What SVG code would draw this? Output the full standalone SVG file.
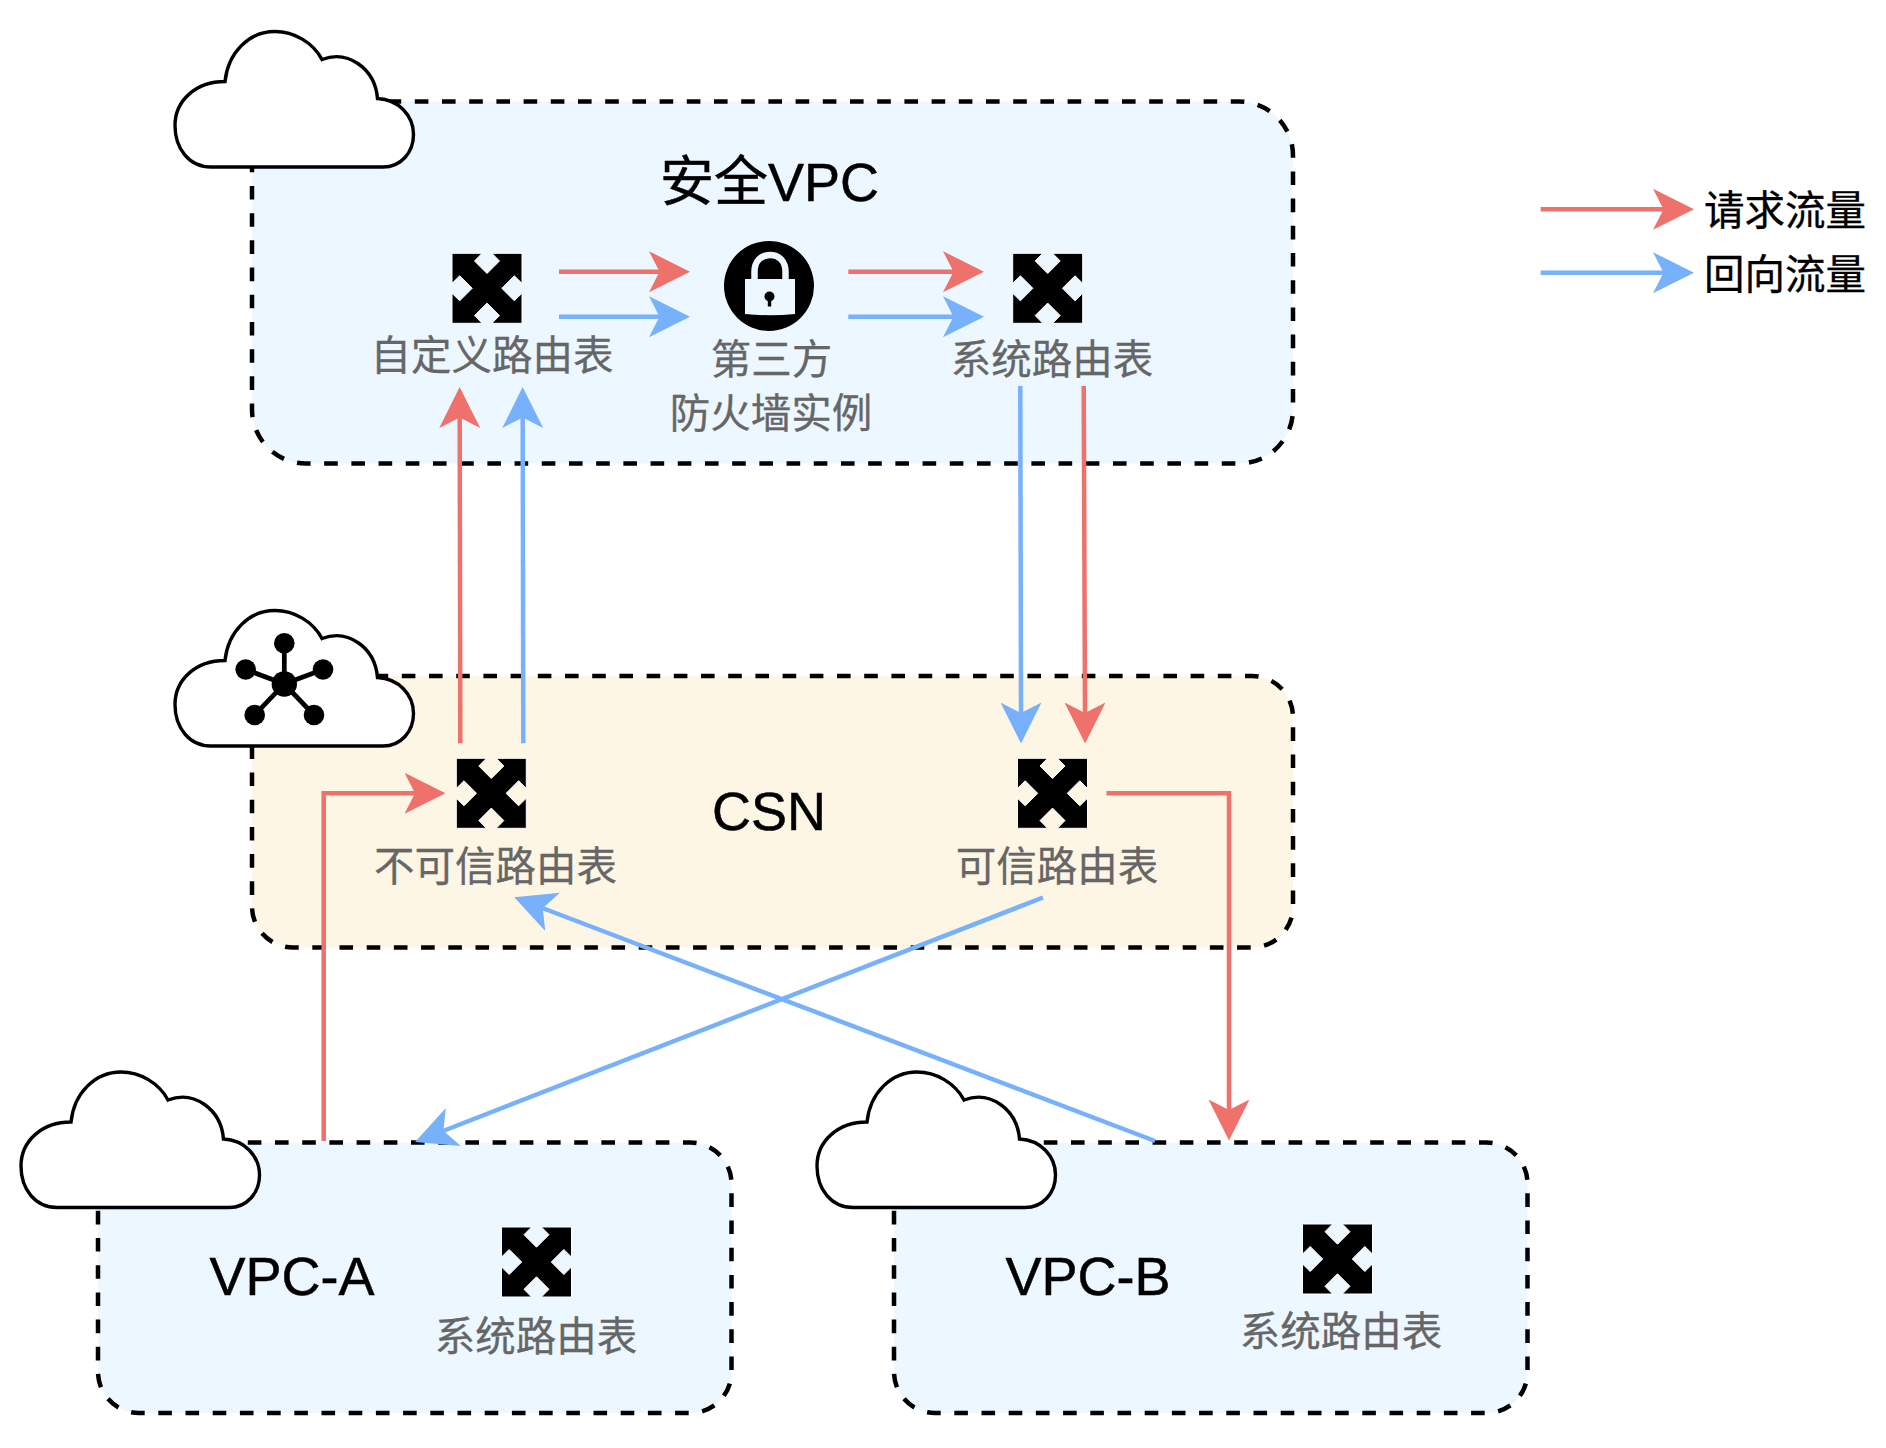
<svg xmlns="http://www.w3.org/2000/svg" width="1886" height="1448" viewBox="0 0 1886 1448">
  <style>
    text { font-family: "Liberation Sans", "Noto Sans CJK SC", sans-serif; }
    .zone { stroke: #000; stroke-width: 4.5; stroke-dasharray: 13.6 13.6; }
    .blue-zone { fill: #ecf7ff; }
    .cream-zone { fill: #fef6e5; }
    .cloud { fill: #fff; stroke: #000; stroke-width: 3.4; }
    .title { font-size: 54px; fill: #000; stroke: #000; stroke-width: 0.5; text-anchor: middle; }
    .label { font-size: 40.5px; fill: #666; stroke: #666; stroke-width: 0.3; text-anchor: middle; }
    .legend { font-size: 40.5px; fill: #000; stroke: #000; stroke-width: 0.3; }
    .link { fill: none; stroke-width: 4.5; }
    .req { stroke: #ef716b; marker-end: url(#headReq); }
    .ret { stroke: #77b1fc; marker-end: url(#headRet); }
  </style>
  <defs>
    <marker id="headReq" markerUnits="userSpaceOnUse" markerWidth="42" markerHeight="42" refX="11" refY="21" orient="auto">
      <path d="M41,21 L0,0.5 L10.5,21 L0,41.5 Z" fill="#ef716b"/>
    </marker>
    <marker id="headRet" markerUnits="userSpaceOnUse" markerWidth="42" markerHeight="42" refX="11" refY="21" orient="auto">
      <path d="M41,21 L0,0.5 L10.5,21 L0,41.5 Z" fill="#77b1fc"/>
    </marker>
    <clipPath id="routeClip"><rect x="-36" y="-36" width="72" height="72"/></clipPath>
    <g id="routeIcon">
      <rect x="-35" y="-35" width="70" height="70" fill="#000" stroke="#fff" stroke-width="1"/>
      <g clip-path="url(#routeClip)" fill="currentColor" stroke="#fff" stroke-width="1">
        <path d="M0,-40 L12.5,-27.3 L0,-14.8 L-12.5,-27.3 Z"/>
        <path d="M0,40 L12.5,27.3 L0,14.8 L-12.5,27.3 Z"/>
        <path d="M-40,0 L-27.3,-12.5 L-14.8,0 L-27.3,12.5 Z"/>
        <path d="M40,0 L27.3,-12.5 L14.8,0 L27.3,12.5 Z"/>
      </g>
    </g>
    <path id="cloudShape" class="cloud" d="M36,136.5 C14,136.5 0,118 0,95 C0,70 21,51 50,51 C53,22 74,1 100,1 C119,1 138,12 147,29 C173,19 200,38 202.5,68 C223.5,69 238.5,85 238.5,104 C238.5,122 226,136.5 208,136.5 Z"/>
  </defs>

  <g id="security-vpc">
    <rect class="zone blue-zone" x="252" y="101.5" width="1041" height="362" rx="54" ry="54"/>
    <use href="#cloudShape" x="175" y="30.5"/>
    <text class="title" x="769.5" y="201">安全VPC</text>
  </g>
  <g id="csn">
    <rect class="zone cream-zone" x="252" y="676" width="1041" height="271.5" rx="41" ry="41"/>
    <use href="#cloudShape" x="175" y="609.5"/>
    <g stroke="#000" stroke-width="4.7" fill="#000">
      <path d="M284.3,643.3 V684 M245.7,669.5 L284.3,684 L323,669.5 M254.7,715 L284.3,684 L314,715" fill="none"/>
      <g stroke="none">
        <circle cx="284.3" cy="684" r="12.7"/>
        <circle cx="284.3" cy="643.3" r="10.3"/>
        <circle cx="245.7" cy="669.5" r="10.3"/>
        <circle cx="323" cy="669.5" r="10.3"/>
        <circle cx="254.7" cy="715" r="10.3"/>
        <circle cx="314" cy="715" r="10.3"/>
      </g>
    </g>
    <text class="title" x="769" y="829.5">CSN</text>
  </g>
  <g id="vpc-a">
    <rect class="zone blue-zone" x="98" y="1142.5" width="633.5" height="270.5" rx="41" ry="41"/>
    <use href="#cloudShape" x="21" y="1071"/>
    <text class="title" x="292" y="1295">VPC-A</text>
  </g>
  <g id="vpc-b">
    <rect class="zone blue-zone" x="894" y="1142.5" width="633.5" height="270.5" rx="41" ry="41"/>
    <use href="#cloudShape" x="817" y="1071"/>
    <text class="title" x="1088" y="1295">VPC-B</text>
  </g>

  <g id="custom-route-table" color="#ecf7ff">
    <use href="#routeIcon" transform="translate(487,288.3)"/>
    <text class="label" x="492" y="370">自定义路由表</text>
  </g>
  <g id="firewall">
    <circle cx="769" cy="285.9" r="45" fill="#000"/>
    <path d="M754.5,281 V272 C754.5,261 761,255 770,255 C779,255 785.5,261 785.5,272 V281" fill="none" stroke="#ecf7ff" stroke-width="6.5"/>
    <path d="M745,279 H795 V314 Q770,316.5 745,314 Z" fill="#ecf7ff"/>
    <circle cx="769.5" cy="296.5" r="5" fill="#000"/>
    <rect x="767.8" y="297.5" width="3.4" height="9" fill="#000"/>
    <text class="label" x="771.5" y="373.5">第三方</text>
    <text class="label" x="771" y="427.5">防火墙实例</text>
  </g>
  <g id="security-system-route-table" color="#ecf7ff">
    <use href="#routeIcon" transform="translate(1047.7,288.3)"/>
    <text class="label" x="1052" y="374">系统路由表</text>
  </g>
  <g id="untrusted-route-table" color="#fef6e5">
    <use href="#routeIcon" transform="translate(491.3,793.3)"/>
    <text class="label" x="495.5" y="880.5">不可信路由表</text>
  </g>
  <g id="trusted-route-table" color="#fef6e5">
    <use href="#routeIcon" transform="translate(1052.5,793.3)"/>
    <text class="label" x="1057" y="880.5">可信路由表</text>
  </g>
  <g id="vpc-a-route-table" color="#ecf7ff">
    <use href="#routeIcon" transform="translate(536.5,1262)"/>
    <text class="label" x="536" y="1351">系统路由表</text>
  </g>
  <g id="vpc-b-route-table" color="#ecf7ff">
    <use href="#routeIcon" transform="translate(1337.5,1259)"/>
    <text class="label" x="1341" y="1346">系统路由表</text>
  </g>

  <g id="connectors">
    <path class="link req" d="M559,271.7 H660"/>
    <path class="link ret" d="M559,316.7 H660"/>
    <path class="link req" d="M848.3,271.7 H954"/>
    <path class="link ret" d="M848.3,316.7 H954"/>
    <path class="link req" d="M460.3,743.3 L459.7,417"/>
    <path class="link ret" d="M523.3,743.3 L522.7,417"/>
    <path class="link ret" d="M1020.3,386 L1021,713.5"/>
    <path class="link req" d="M1083.7,386 L1085,713.5"/>
    <path class="link req" d="M323.7,1141 V793.3 H415.5"/>
    <path class="link req" d="M1106.5,793.3 H1229 V1110.5"/>
    <path class="link ret" d="M1043,897.5 L443,1131"/>
    <path class="link ret" d="M1155,1141 L542.3,908"/>
  </g>

  <g id="legend">
    <path class="link req" d="M1540.7,209.3 H1664"/>
    <text class="legend" x="1704" y="224.5">请求流量</text>
    <path class="link ret" d="M1540.7,272.7 H1664"/>
    <text class="legend" x="1704" y="288.5">回向流量</text>
  </g>
</svg>
